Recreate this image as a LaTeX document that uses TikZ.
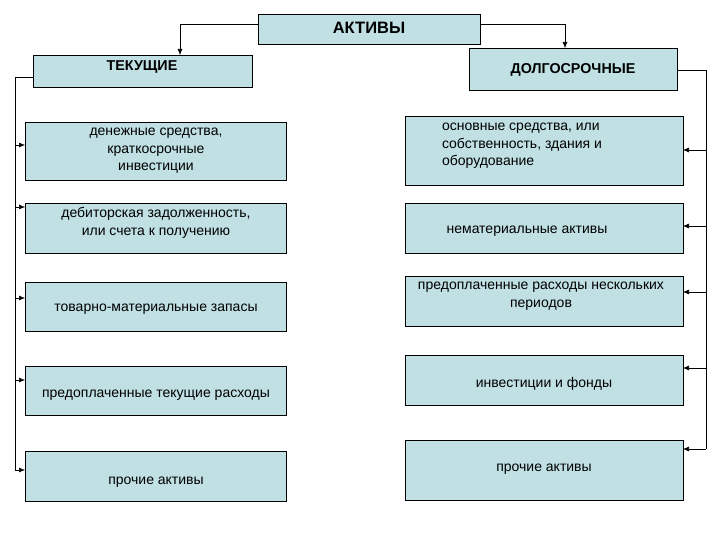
\documentclass[tikz,border=0pt]{standalone}
\usepackage{fontspec}
\setmainfont{Liberation Sans}
\usetikzlibrary{arrows.meta}
\begin{document}
\begin{tikzpicture}[x=1pt,y=-1pt,
 box/.style={draw=black,fill={rgb,255:red,192;green,224;blue,228},line width=0.6pt},
 txt/.style={font=\fontsize{14}{17.5}\selectfont,align=center},
 arr/.style={-{Latex[length=6pt,width=5pt]},line width=0.6pt}]
\useasboundingbox (0,0) rectangle (720,540);
% top
\draw[box] (258,14) rectangle (480,44);
\node[txt,font=\bfseries\fontsize{16.5}{18}\selectfont] (akt) at (369,28) {АКТИВЫ};
\coordinate (aL) at (258,24); \coordinate (aR) at (480,24);
\draw[box] (33,55) rectangle (252,87);
\node[txt,font=\bfseries\fontsize{14.3}{16}\selectfont] (tek) at (142,67) {ТЕКУЩИЕ};
\draw[box] (469,48) rectangle (677,90);
\node[txt,font=\bfseries\fontsize{14.3}{16}\selectfont] (dol) at (573,70) {ДОЛГОСРОЧНЫЕ};
\coordinate (tekT) at (180,55); \coordinate (dolT) at (565,48);
\draw[arr] (aL) -| (tekT);
\draw[arr] (aR) -| (dolT);
% left boxes
\draw[box] (25,122) rectangle (286,180);
\node[txt] (l1) at (156,151) {денежные средства,\\краткосрочные\\инвестиции};
\draw[box] (25,203) rectangle (286,253);
\node[txt] (l2) at (156,223) {дебиторская задолженность,\\или счета к получению};
\draw[box] (25,282) rectangle (286,331);
\node[txt] (l3) at (156,309) {товарно-материальные запасы};
\draw[box] (25,366) rectangle (286,415);
\node[txt] (l4) at (156,395) {предоплаченные текущие расходы};
\draw[box] (25,451) rectangle (286,501);
\node[txt] (l5) at (156,482) {прочие активы};
% right boxes
\draw[box] (405,116) rectangle (683,185);
\node[txt,align=left] (r1) at (522,146) {основные средства, или\\собственность, здания и\\оборудование};
\draw[box] (405,203) rectangle (683,253);
\node[txt] (r2) at (527,231) {нематериальные активы};
\draw[box] (405,276) rectangle (683,326);
\node[txt] (r3) at (541,296) {предоплаченные расходы нескольких\\периодов};
\draw[box] (405,355) rectangle (683,405);
\node[txt] (r4) at (544,384) {инвестиции и фонды};
\draw[box] (405,440) rectangle (683,500);
\node[txt] (r5) at (544,469) {прочие активы};
% left bus
\coordinate (tL) at (33,77);
\coordinate (b0) at (15,77);
\draw[line width=0.6pt] (tL) -- (b0) -- (15,470);
\foreach \y in {145,207,298,380,470} \draw[arr] (15,\y) -- (25,\y);
% right bus
\coordinate (dR) at (677,70);
\draw[line width=0.6pt] (dR) -- (706,70) -- (706,449);
\foreach \y in {150,226,292,368,449} \draw[arr] (706,\y) -- (683,\y);
\end{tikzpicture}
\end{document}
